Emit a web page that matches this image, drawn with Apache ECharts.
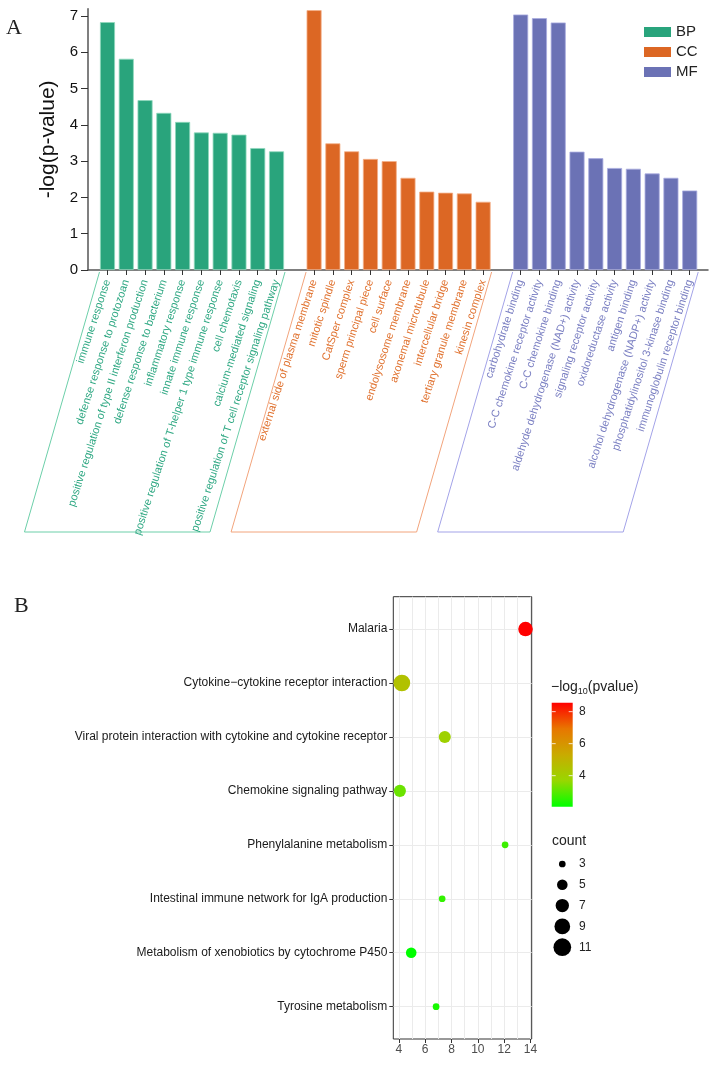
<!DOCTYPE html>
<html>
<head>
<meta charset="utf-8">
<script src="https://cdn.jsdelivr.net/npm/echarts@6/dist/echarts.min.js"></script>
<style>
html,body{margin:0;padding:0;background:#fff;}
#chart{width:718px;height:1068px;}
</style>
</head>
<body>
<div id="chart"></div>
<script>
// ---------- Panel A data ----------
const bpTerms = ['immune response','defense response to protozoan','positive regulation of type II interferon production','defense response to bacterium','inflammatory response','innate immune response','positive regulation of T-helper 1 type immune response','cell chemotaxis','calcium-mediated signaling','positive regulation of T cell receptor signaling pathway'];
const bpValues = [6.83, 5.82, 4.68, 4.33, 4.08, 3.79, 3.78, 3.73, 3.36, 3.27];
const ccTerms = ['external side of plasma membrane','mitotic spindle','CatSper complex','sperm principal piece','cell surface','endolysosome membrane','axonemal microtubule','intercellular bridge','tertiary granule membrane','kinesin complex'];
const ccValues = [7.16, 3.49, 3.27, 3.06, 3.00, 2.54, 2.16, 2.13, 2.11, 1.88];
const mfTerms = ['carbohydrate binding','C-C chemokine receptor activity','C-C chemokine binding','aldehyde dehydrogenase (NAD+) activity','signaling receptor activity','oxidoreductase activity','antigen binding','alcohol dehydrogenase (NADP+) activity','phosphatidylinositol 3-kinase binding','immunoglobulin receptor binding'];
const mfValues = [7.04, 6.94, 6.82, 3.26, 3.08, 2.81, 2.79, 2.66, 2.54, 2.19];
const groupNames = ['BP','CC','MF'];
const yTicksA = [0,1,2,3,4,5,6,7];

// ---------- Panel B data ----------
const pathways = ['Malaria','Cytokine\u2212cytokine receptor interaction','Viral protein interaction with cytokine and cytokine receptor','Chemokine signaling pathway','Phenylalanine metabolism','Intestinal immune network for IgA production','Metabolism of xenobiotics by cytochrome P450','Tyrosine metabolism'];
const ratios = [13.62, 4.23, 7.49, 4.08, 12.07, 7.29, 4.94, 6.83];
const logP = [8.56, 4.5, 3.9, 3.2, 2.7, 2.6, 2.06, 2.3];
const counts = [8, 10, 6, 6, 3, 3, 5, 3];
const xTicksB = [4,6,8,10,12,14];
const xGridB = [4,5,6,7,8,9,10,11,12,13,14];
const yTicksB = [0,1,2,3,4,5,6,7];
const colorTicks = [4,6,8];
const countBreaks = [3,5,7,9,11];

// ---------- styles ----------
const FONT = '"Liberation Sans", Arial, Helvetica, sans-serif';
const SERIF = '"Liberation Serif", "Times New Roman", serif';
const groupColors = ['#29a47c','#dc6724','#6b72b5'];
const groupLabelColors = ['#2fa883','#e0712e','#7a7fc2'];
const groupBorder = ['#8fd8bd','#f4b089','#a9ace0'];
const outlineColors = ['#6ccfa9','#f2a47c','#a3a3e8'];
const gradStops = ['#00FF00','#98D700','#C9AB00','#E87600','#FF0000'];
const cMin = 2.06, cMax = 8.56;

function sizeOf(c){ return Math.sqrt(45 + 33.5*(c-3)); }

// build categories: BP, blank, CC, blank, MF
const cats = [].concat(bpTerms, [' '], ccTerms, ['  '], mfTerms);
const groupOfIndex = cats.map((c,i)=> i<10?0:(i===10?-1:(i<21?1:(i===21?-1:2))));
function fill(values, offset){
  const arr = cats.map(()=>null);
  values.forEach((v,i)=>{arr[offset+i]=v;});
  return arr;
}
const groupSeriesData = [fill(bpValues,0), fill(ccValues,11), fill(mfValues,22)];

const chart = echarts.init(document.getElementById('chart'), null, {renderer:'canvas', width:718, height:1068});

const option = {
  animation:false,
  textStyle:{fontFamily:FONT},
  grid:[
    {left:88, right:10, top:8.7, bottom:798},
    {left:98.1, right:18.9, top:8.7, bottom:798},
    {left:393.3, right:186.3, top:596.7, bottom:29, show:true, borderColor:'#333', borderWidth:1, backgroundColor:'transparent'}
  ],
  legend:{
    orient:'vertical', left:639, top:19.5, itemWidth:27, itemHeight:10, itemGap:5,
    icon:'rect', data:groupNames, itemStyle:{borderWidth:0},
    textStyle:{fontSize:15, color:'#222', fontFamily:FONT, lineHeight:14}
  },
  xAxis:[
    {gridIndex:0, type:'value', min:0, max:1,
      axisLine:{show:true, onZero:false, lineStyle:{color:'#555', width:1.5}},
      axisTick:{show:false}, axisLabel:{show:false}, splitLine:{show:false}},
    {gridIndex:1, type:'category', data:cats,
      axisLine:{show:false, onZero:false},
      axisTick:{show:true, alignWithLabel:true, length:5, lineStyle:{color:'#333', width:1},
        interval:function(i,v){return String(v).trim()!=='';}},
      axisLabel:{interval:0, rotate:72, margin:10, fontSize:11, fontFamily:FONT,
        color:function(v,i){ const g=groupOfIndex[i]; return g<0?'#fff':groupLabelColors[g]; }},
      splitLine:{show:false}},
    {gridIndex:2, type:'value', min:3.58, max:14.09,
      axisLine:{show:false, onZero:false},
      axisTick:{show:true, customValues:xTicksB, length:4, lineStyle:{color:'#333'}},
      axisLabel:{show:true, customValues:xTicksB, fontSize:12, color:'#4d4d4d', margin:5, fontFamily:FONT},
      splitLine:{show:false}},
    {gridIndex:2, type:'value', min:3.58, max:14.09,
      axisLine:{show:false, onZero:false},
      axisTick:{show:false, customValues:xGridB},
      axisLabel:{show:false},
      splitLine:{show:true, lineStyle:{color:'#ebebeb', width:1}}}
  ],
  yAxis:[
    {gridIndex:0, type:'value', min:0, max:7.2,
      name:'-log(p-value)', nameLocation:'middle', nameGap:24, nameRotate:90,
      nameTextStyle:{fontSize:21, color:'#111', fontFamily:FONT},
      axisLine:{show:true, onZero:false, lineStyle:{color:'#555', width:1.5}},
      axisTick:{show:true, customValues:yTicksA, length:7, lineStyle:{color:'#333'}},
      axisLabel:{customValues:yTicksA, fontSize:15, color:'#111', margin:10, fontFamily:FONT},
      splitLine:{show:false}},
    {gridIndex:1, type:'value', min:0, max:7.2, show:false, splitLine:{show:false}},
    {gridIndex:2, type:'value', inverse:true, min:-0.6, max:7.6,
      axisLine:{show:false, onZero:false},
      axisTick:{show:true, customValues:yTicksB, length:4, lineStyle:{color:'#333'}},
      axisLabel:{customValues:yTicksB, fontSize:12, color:'#1a1a1a', margin:6, fontFamily:FONT,
        formatter:function(v){return pathways[Math.round(v)]||'';}},
      splitLine:{show:true, lineStyle:{color:'#ebebeb', width:1}}}
  ],
  visualMap:[{
    type:'continuous', show:false, seriesIndex:3, dimension:2, min:cMin, max:cMax,
    inRange:{color:gradStops}
  }],
  series:[
    ...groupNames.map((g,k)=>({
      name:g, type:'bar', xAxisIndex:1, yAxisIndex:1, stack:'go',
      data:groupSeriesData[k], barCategoryGap:'20%',
      itemStyle:{color:groupColors[k], borderColor:groupBorder[k], borderWidth:0.8}
    })),
    {
      name:'kegg', type:'scatter', xAxisIndex:2, yAxisIndex:2, clip:false, z:5,
      data:pathways.map((p,i)=>[ratios[i], i, logP[i], counts[i]]),
      symbolSize:function(v){return sizeOf(v[3]);},
      itemStyle:{opacity:1}
    }
  ]
};
chart.setOption(option);

// ----- decorations computed from the axes -----
const g = [];
const zeroY = chart.convertToPixel({yAxisIndex:1}, 0);
const ranges = [[0,9],[11,20],[22,31]];
ranges.forEach((r,k)=>{
  const x1 = chart.convertToPixel({xAxisIndex:1}, r[0]) - 8;
  const x2 = chart.convertToPixel({xAxisIndex:1}, r[1]) + 8.5;
  const top = zeroY + 2, bot = zeroY + 262, dx = -75;
  g.push({type:'polyline', silent:true, shape:{points:[[x1,top],[x1+dx,bot],[x2+dx,bot],[x2,top]]},
    style:{stroke:outlineColors[k], lineWidth:1, fill:null}});
});
g.push({type:'text', left:6, top:17, style:{text:'A', font:'22px '+SERIF, fill:'#222'}});
g.push({type:'text', left:14, top:595, style:{text:'B', font:'22px '+SERIF, fill:'#222'}});

// colour bar legend
const cb = {x:551.7, y:702.7, w:21, h:104};
g.push({type:'text', left:551, top:680, style:{
  text:'{a|\u2212log}{s|10}{a|(pvalue)}',
  rich:{a:{fontSize:14, fontFamily:FONT, fill:'#222', lineHeight:18, verticalAlign:'middle'},
        s:{fontSize:9, fontFamily:FONT, fill:'#222', lineHeight:18, verticalAlign:'bottom'}}
}});
g.push({type:'rect', shape:{x:cb.x, y:cb.y, width:cb.w, height:cb.h}, style:{
  fill:{type:'linear', x:0, y:0, x2:0, y2:1, colorStops:gradStops.slice().reverse().map((c,i,a)=>({offset:i/(a.length-1), color:c}))}
}});
colorTicks.forEach(v=>{
  const yy = cb.y + (cMax - v)/(cMax - cMin)*cb.h;
  g.push({type:'line', shape:{x1:cb.x, y1:yy, x2:cb.x+4, y2:yy}, style:{stroke:'#fff', lineWidth:1, opacity:0.8}});
  g.push({type:'line', shape:{x1:cb.x+cb.w-4, y1:yy, x2:cb.x+cb.w, y2:yy}, style:{stroke:'#fff', lineWidth:1, opacity:0.8}});
  g.push({type:'text', x:579, y:yy, style:{text:String(v), fontSize:12, fontFamily:FONT, fill:'#222', verticalAlign:'middle', align:'left'}});
});
// size legend
g.push({type:'text', x:552, y:841, style:{text:'count', fontSize:14, fontFamily:FONT, fill:'#222', verticalAlign:'middle'}});
countBreaks.forEach((c,i)=>{
  const yy = 864 + i*20.8;
  g.push({type:'circle', shape:{cx:562.3, cy:yy, r:sizeOf(c)/2}, style:{fill:'#000'}});
  g.push({type:'text', x:579, y:yy, style:{text:String(c), fontSize:12, fontFamily:FONT, fill:'#222', verticalAlign:'middle'}});
});
chart.setOption({graphic:g});
</script>
</body>
</html>
